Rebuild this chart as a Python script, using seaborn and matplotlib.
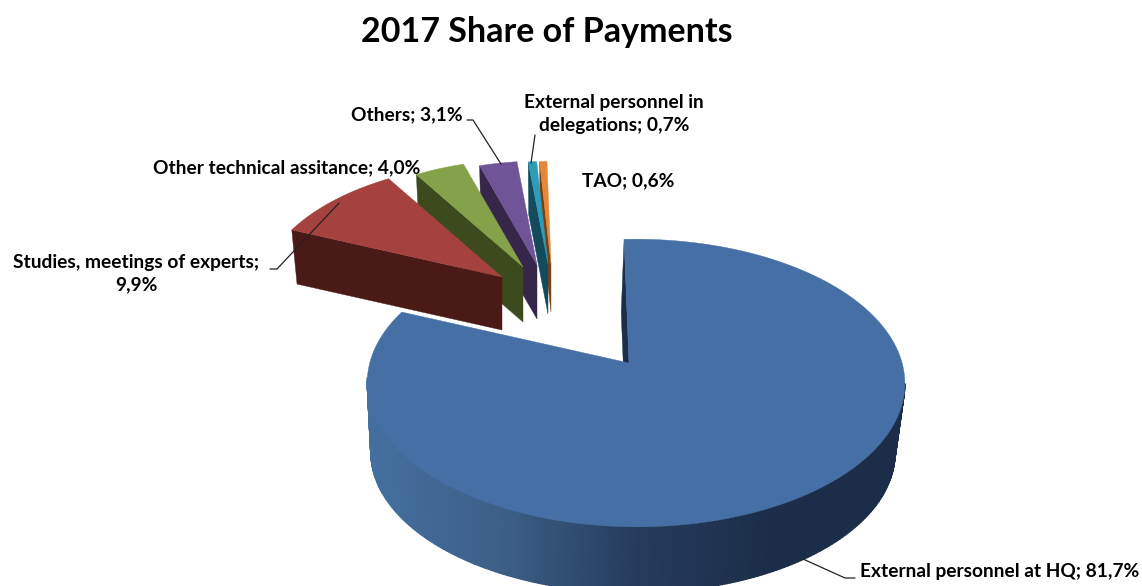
import numpy as np
import seaborn as sns
import matplotlib.pyplot as plt
from matplotlib.colors import to_rgb

categories = ['External personnel at HQ', 'Studies, meetings of experts', 'Other technical assitance',
              'Others', 'External personnel in delegations', 'TAO']
shares = [81.7, 9.9, 4.0, 3.1, 0.7, 0.6]

top_colors = ['#466fa6', '#a5413f', '#85a24a', '#6f5597', '#2e9bbb', '#e6873a']
side_colors = ['#1b2d48', '#4a1a17', '#3d4a1e', '#35264a', '#134a5c', '#7a4010']

# each slice sits where the exploded 3D pie put it: apex, size, wall height
apex_x = [629, 502, 523, 537, 548, 551]
apex_y = [363, 277, 267, 265, 264, 264]
slice_scale = [1.0, 0.925, 0.87, 0.84, 0.83, 0.83]
wall = [70, 53, 55, 54, 50, 48]
wall_shift = [-3, 0, 0, 0, 0, 0]

rx, ry = 266, 141
tilt_y, tilt_x = 0.139, -0.026
start_angle = -1.2


def rim(theta, i, shrink=1.0, height=0.0, shift=0.0):
    t = np.radians(theta)
    w = 1 + tilt_y * np.cos(t) + tilt_x * np.sin(t)
    s = slice_scale[i] * shrink
    x = apex_x[i] + shift + s * rx * np.sin(t) / w
    y = apex_y[i] + height - s * ry * np.cos(t) / w
    return x, y


sns.set_theme(style='white')
plt.rcParams['font.family'] = ['Lato', 'DejaVu Sans']

fig = plt.figure(figsize=(11.42, 5.86), dpi=100)
ax = fig.add_axes([0, 0, 1, 1])
ax.set_xlim(0, 1142)
ax.set_ylim(586, 0)
ax.axis('off')

edges = start_angle + np.concatenate([[0], np.cumsum(shares)]) * 3.6
wall_ramp = ['#4470a0', '#3d5f88', '#253c5c', '#1b2d48', '#1b2d48']

# painted back to front, right hand slices first, big slice at the very back
for i in [0, 5, 4, 3, 2, 1]:
    a0, a1 = edges[i], edges[i + 1]
    thetas = np.linspace(a0, a1, 240)
    h, sh = wall[i], wall_shift[i]
    x0, y0 = apex_x[i], apex_y[i]
    z = 2 + 0.01 * (6 - i)

    # flat cut face at the start of the slice
    fx, fy = rim(a0, i)
    bx0, by0 = rim(a0, i, 0.975, h, sh)
    if i == 1:
        # white seam under the red slice, where it passes the big one
        ax.plot([bx0, x0], [by0 + 1.5, y0 + h + 1.5], color='white', lw=1.2, zorder=z - 0.001)
    ax.fill([x0, fx, bx0, x0 + sh], [y0, fy, by0, y0 + h], color=side_colors[i], lw=0.3, zorder=z)

    if i == 0:
        # outer wall, shaded from left to right, only the part facing the viewer
        front = np.linspace(98, 264, 200)
        tx, ty = rim(front, i)
        bx, by = rim(front, i, 0.975, h, sh)
        for k in range(len(front) - 1):
            pos = np.clip((bx[k] - 367) / 538, 0, 1) * (len(wall_ramp) - 1)
            lo = int(min(pos, len(wall_ramp) - 2))
            c = (1 - (pos - lo)) * np.array(to_rgb(wall_ramp[lo])) + (pos - lo) * np.array(to_rgb(wall_ramp[lo + 1]))
            ax.fill([tx[k], tx[k + 1], bx[k + 1], bx[k]], [ty[k], ty[k + 1], by[k + 1], by[k]],
                    color=c, lw=1.0, zorder=2)

    px, py = rim(thetas, i)
    ax.fill(np.r_[x0, px], np.r_[y0, py], color=top_colors[i], lw=0.3, zorder=z + 0.001)

ax.text(547, 32, '2017 Share of Payments', ha='center', va='center', fontsize=24.5, fontweight='bold', color='black')


def label(i, text=None):
    return f"{text or categories[i]}; {shares[i]:.1f}%".replace('.', ',')


txt = dict(fontsize=13.8, fontweight='bold', color='black', zorder=5)
ax.text(1000, 572, label(0), ha='center', va='center', **txt)
ax.text(136, 274, 'Studies, meetings of experts;\n' + f'{shares[1]:.1f}%'.replace('.', ','), ha='center', va='center',
        linespacing=1.39, **txt)
ax.text(287, 168, label(2), ha='center', va='center', **txt)
ax.text(407, 115, label(3), ha='center', va='center', **txt)
ax.text(614, 114, 'External personnel in\n' + f'delegations; {shares[4]:.1f}%'.replace('.', ','), ha='center', va='center',
        linespacing=1.39, **txt)
ax.text(628, 181, label(5), ha='center', va='center', **txt)

leaders = [
    ([855, 845, 803], [578, 578, 559]),
    ([270, 277, 339], [269, 269, 203]),
    ([467, 473, 501], [120, 120, 164]),
    ([535, 531], [135, 163]),
]
for lx, ly in leaders:
    ax.plot(lx, ly, color='#222222', lw=0.9, zorder=4)

fig.savefig('out.png', dpi=100)
plt.close(fig)
